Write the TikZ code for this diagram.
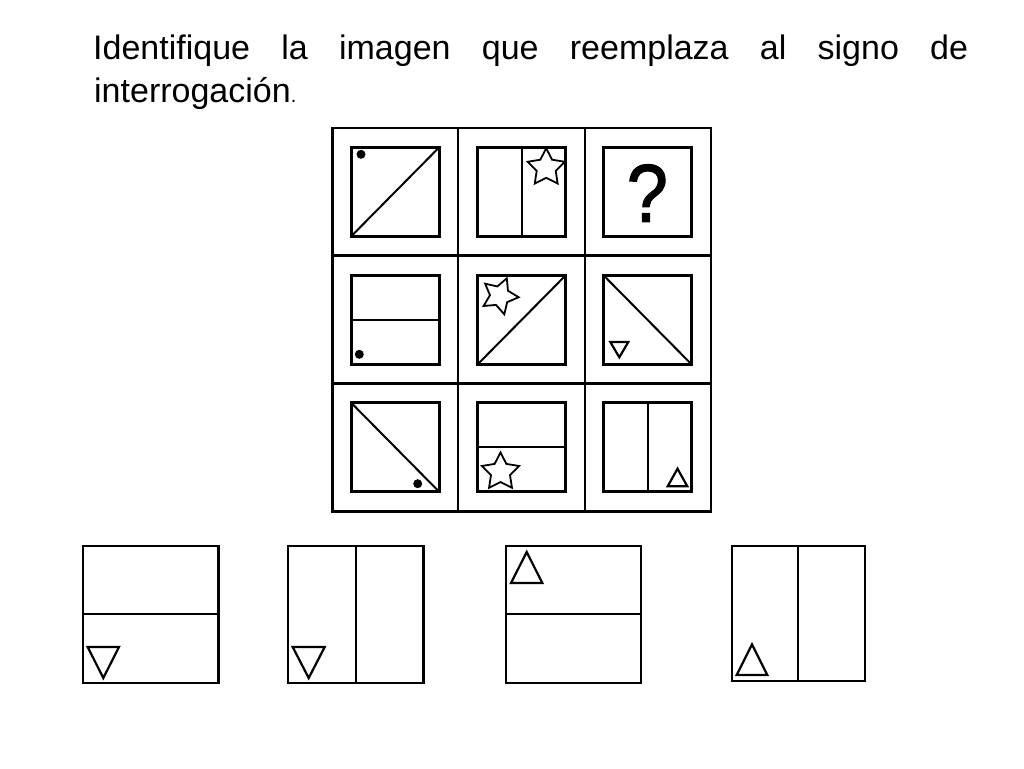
\documentclass[tikz,border=0pt]{standalone}
\usepackage{fontspec}
\setmainfont{Liberation Sans}
\newfontfamily\qfont[FakeBold=1.6]{Liberation Sans}
\usetikzlibrary{shapes.geometric}
\begin{document}
\begin{tikzpicture}[x=1pt,y=-1pt,
  box/.style={draw, line width=2.7pt, minimum width=88pt, minimum height=89pt, inner sep=0pt, outer sep=0pt},
  optbox/.style={draw, line width=2.4pt, inner sep=0pt, outer sep=0pt},
  divider/.style={line width=2pt},
  gridline/.style={line width=2.2pt},
  dot/.style={fill=black, circle, minimum size=9pt, inner sep=0pt},
  starmark/.style={star, star points=5, star point ratio=1.95, draw, line width=1.8pt, minimum size=39pt, inner sep=0pt},
  tri/.style={line width=2.2pt, line join=miter},
  title/.style={inner sep=0pt, anchor=base west, font=\fontsize{34}{40}\selectfont}
]
\useasboundingbox (0,0) rectangle (1024,768);
\fill[white] (0,0) rectangle (1024,768);

% title
\node[title] (t1) at (93,59.3) {\makebox[875pt][s]{Identifique la imagen que reemplaza al signo de}};
\node[title] (t2) at (94,102.3) {interrogación{\fontsize{20}{20}\selectfont.}};

% grid
\draw[gridline] (332.5,128) rectangle (711,511.5);
\draw[gridline] (458.3,128) -- (458.3,511.5);
\draw[gridline] (585,128) -- (585,511.5);
\draw[gridline] (332.5,255.5) -- (711,255.5);
\draw[gridline] (332.5,383.5) -- (711,383.5);

% inner boxes
\node[box] (b11) at (395.2,191.8) {};
\node[box] (b12) at (521.5,191.8) {};
\node[box] (b13) at (647.7,191.8) {};
\node[box] (b21) at (395.2,320) {};
\node[box] (b22) at (521.5,320) {};
\node[box] (b23) at (647.7,320) {};
\node[box] (b31) at (395.2,447.3) {};
\node[box] (b32) at (521.5,447.3) {};
\node[box] (b33) at (647.7,447.3) {};

% dividers
\draw[divider] (b11.south west) -- (b11.north east);
\draw[divider] (b12.north) -- (b12.south);
\draw[divider] (b21.west) -- (b21.east);
\draw[divider] (b22.south west) -- (b22.north east);
\draw[divider] (b23.north west) -- (b23.south east);
\draw[divider] (b31.north west) -- (b31.south east);
\draw[divider] (b32.west) -- (b32.east);
\draw[divider] (b33.north) -- (b33.south);

% marks
\node[dot] (d11) at (361,154.3) {};
\node[dot] (d21) at (359.3,354.3) {};
\node[dot] (d31) at (417.7,483.7) {};
\node[starmark] (s12) at (546.2,167.8) {};
\node[starmark, rotate=-22, minimum size=38pt] (s22) at (499.7,295.9) {};
\node[starmark] (s32) at (500.5,472) {};
\node[inner sep=0pt, anchor=base, font=\qfont\fontsize{82}{82}\selectfont, xscale=0.9] (q) at (647.3,221.7) {?};
\draw[tri] (610.3,342) -- (628.3,342) -- (619.3,357.3) -- cycle;
\draw[tri] (667.7,486.3) -- (687.3,486.3) -- (677.5,468.7) -- cycle;

% options
\node[optbox, minimum width=135.6pt, minimum height=137pt] (oA) at (150.5,614.2) {};
\node[optbox, minimum width=135.6pt, minimum height=137pt] (oB) at (355.5,614.2) {};
\node[optbox, minimum width=135.3pt, minimum height=137pt] (oC) at (573.4,614.2) {};
\node[optbox, minimum width=133.3pt, minimum height=135pt] (oD) at (798.4,613.2) {};
\draw[divider] (oA.west) -- (oA.east);
\draw[divider] (oB.north) -- (oB.south);
\draw[divider] (oC.west) -- (oC.east);
\draw[divider] (oD.north) -- (oD.south);
\draw[tri] (87.7,647) -- (119,647) -- (103.3,678) -- cycle;
\draw[tri] (292.7,647) -- (324.7,647) -- (308.7,678) -- cycle;
\draw[tri] (511,583) -- (542.3,583) -- (526.7,552) -- cycle;
\draw[tri] (736.7,675) -- (767.3,675) -- (752,644.3) -- cycle;
\end{tikzpicture}
\end{document}
